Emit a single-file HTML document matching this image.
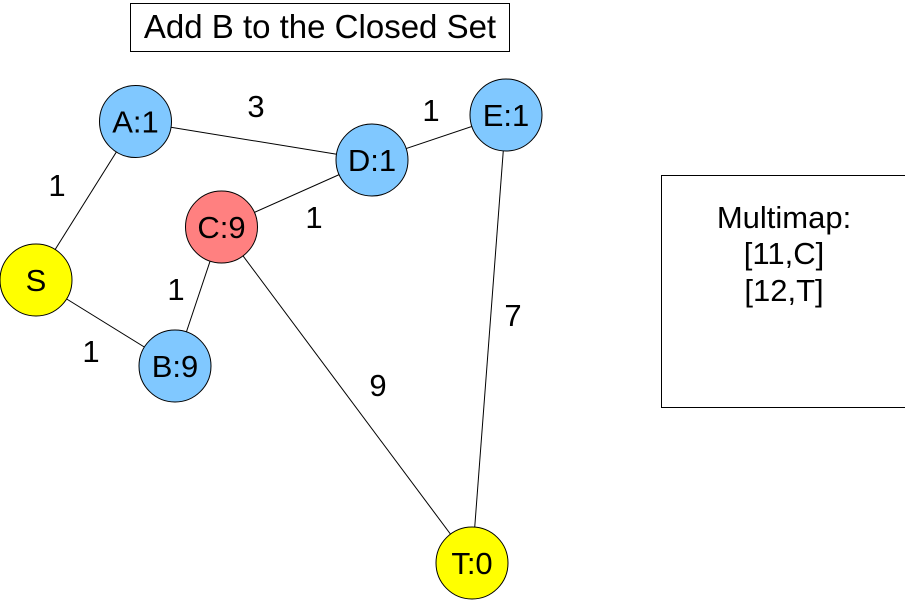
<!DOCTYPE html>
<html><head><style>body{margin:0;background:#fff}svg{display:block}</style></head><body>
<svg width="905" height="600" xmlns="http://www.w3.org/2000/svg" font-family="Liberation Sans, sans-serif" font-size="31">
<rect x="130.5" y="3.5" width="379" height="48" fill="#fff" stroke="#000"/>
<text x="320" y="38" text-anchor="middle" font-size="33">Add B to the Closed Set</text>
<rect x="661.5" y="175.5" width="245" height="232" fill="#fff" stroke="#000"/>
<text x="784" y="228" text-anchor="middle">Multimap:</text>
<text x="784" y="264" text-anchor="middle">[11,C]</text>
<text x="784" y="301" text-anchor="middle">[12,T]</text>
<g stroke="#000" stroke-width="1">
<line x1="135.5" y1="121.5" x2="372" y2="160"/>
<line x1="135.5" y1="121.5" x2="36" y2="280"/>
<line x1="372" y1="160" x2="506" y2="115"/>
<line x1="372" y1="160" x2="221.5" y2="227"/>
<line x1="506" y1="115" x2="472" y2="563"/>
<line x1="221.5" y1="227" x2="175" y2="366"/>
<line x1="221.5" y1="227" x2="472" y2="563"/>
<line x1="36" y1="280" x2="175" y2="366"/>
</g>
<g stroke="#000" stroke-width="1">
<circle cx="135.5" cy="121.5" r="36" fill="#80c8ff"/>
<circle cx="372" cy="160" r="36" fill="#80c8ff"/>
<circle cx="506" cy="115" r="36" fill="#80c8ff"/>
<circle cx="221.5" cy="227" r="36" fill="#ff8080"/>
<circle cx="36" cy="280" r="36" fill="#ffff00"/>
<circle cx="175" cy="366" r="36" fill="#80c8ff"/>
<circle cx="472" cy="563" r="36" fill="#ffff00"/>
</g>
<g text-anchor="middle">
<text x="135.5" y="132.5">A:1</text>
<text x="372" y="171">D:1</text>
<text x="506" y="126">E:1</text>
<text x="221.5" y="238">C:9</text>
<text x="36" y="291">S</text>
<text x="175" y="377">B:9</text>
<text x="472" y="574">T:0</text>
<text x="256" y="117">3</text>
<text x="431" y="121">1</text>
<text x="57" y="196">1</text>
<text x="314" y="228">1</text>
<text x="176" y="300">1</text>
<text x="91" y="362">1</text>
<text x="513" y="326">7</text>
<text x="378" y="396">9</text>
</g>
</svg>
</body></html>
